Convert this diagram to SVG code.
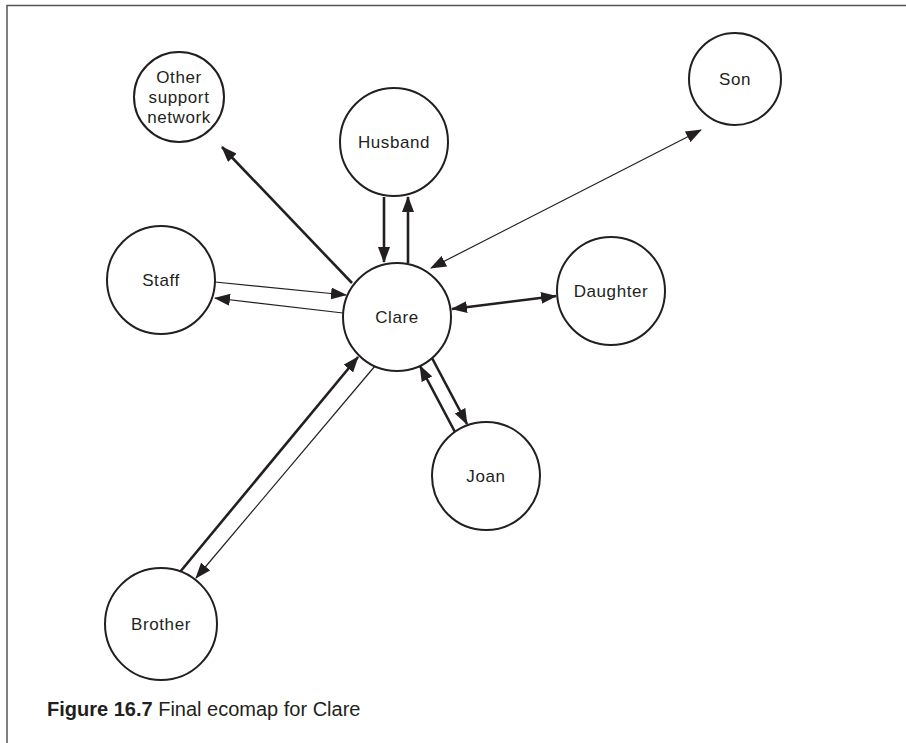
<svg xmlns="http://www.w3.org/2000/svg" width="906" height="743" viewBox="0 0 906 743">
<style>
.n{fill:#fff;stroke:#231f20;stroke-width:2}
.t{font-family:"Liberation Sans",Arial,sans-serif;font-size:17px;letter-spacing:0.6px;fill:#231f20;text-anchor:middle}
.thin{stroke:#231f20;stroke-width:1.2;fill:none}
.thick{stroke:#231f20;stroke-width:2.6;fill:none}
.cap{font-family:"Liberation Sans",Arial,sans-serif;font-size:20px;fill:#231f20}
</style>
<defs>
<marker id="a" markerUnits="userSpaceOnUse" markerWidth="16" markerHeight="12" viewBox="0 0 16 12" refX="15" refY="6" orient="auto-start-reverse">
<path d="M0,0 L16,6 L0,12 Z" fill="#231f20"/>
</marker>
</defs>
<rect width="906" height="743" fill="#fff"/>
<path d="M7,743 V5.5 H906" fill="none" stroke="#555" stroke-width="1.5"/>
<g id="connectors">
<line class="thick" x1="384" y1="197" x2="384" y2="262" marker-end="url(#a)"/>
<line class="thick" x1="408" y1="263" x2="408" y2="197" marker-end="url(#a)"/>
<line class="thin" x1="431" y1="268" x2="701" y2="130" marker-start="url(#a)" marker-end="url(#a)"/>
<line class="thick" x1="352" y1="283" x2="222" y2="147" marker-end="url(#a)"/>
<line class="thin" x1="215" y1="282" x2="346" y2="295" marker-end="url(#a)"/>
<line class="thin" x1="343" y1="313" x2="215" y2="298" marker-end="url(#a)"/>
<line class="thick" x1="452" y1="309" x2="556" y2="296" marker-start="url(#a)" marker-end="url(#a)"/>
<line class="thick" x1="432" y1="358" x2="467" y2="424" marker-end="url(#a)"/>
<line class="thick" x1="455" y1="432" x2="420" y2="366" marker-end="url(#a)"/>
<line class="thick" x1="180" y1="572" x2="358" y2="357" marker-end="url(#a)"/>
<line class="thin" x1="375" y1="366" x2="196" y2="578" marker-end="url(#a)"/>
</g>
<g id="clare"><circle class="n" cx="397" cy="317" r="54"/><text class="t" x="397" y="323">Clare</text></g>
<g id="husband"><circle class="n" cx="394" cy="142" r="54"/><text class="t" x="394" y="148">Husband</text></g>
<g id="other"><circle class="n" cx="179" cy="97" r="45"/><text class="t" x="179" y="83">Other</text><text class="t" x="179" y="103">support</text><text class="t" x="179" y="123">network</text></g>
<g id="son"><circle class="n" cx="735" cy="79" r="46"/><text class="t" x="735" y="85">Son</text></g>
<g id="staff"><circle class="n" cx="161" cy="280" r="54"/><text class="t" x="161" y="286">Staff</text></g>
<g id="daughter"><circle class="n" cx="611" cy="291" r="54"/><text class="t" x="611" y="297">Daughter</text></g>
<g id="joan"><circle class="n" cx="486" cy="476" r="54"/><text class="t" x="486" y="482">Joan</text></g>
<g id="brother"><circle class="n" cx="161" cy="624" r="56"/><text class="t" x="161" y="630">Brother</text></g>
<text class="cap" x="47" y="716"><tspan font-weight="bold">Figure 16.7</tspan>  Final ecomap for Clare</text>
</svg>
